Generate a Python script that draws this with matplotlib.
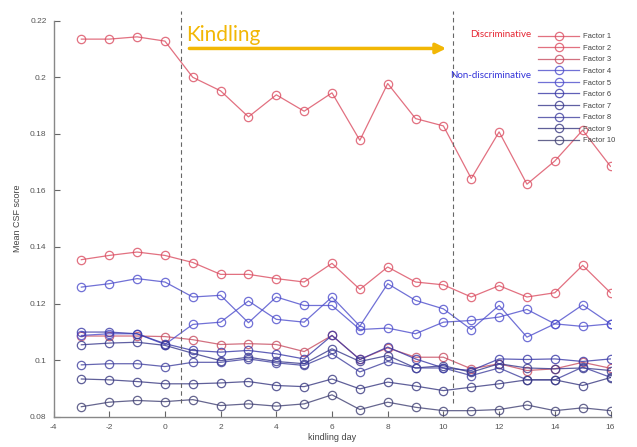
import numpy as np
from matplotlib import pyplot as plt

plt.rcParams["axes.unicode_minus"] = False

# kindling days
days = list(range(-3, 17))

factor1 = [0.2135, 0.2135, 0.2143, 0.2128, 0.2000, 0.1952, 0.1860, 0.1938, 0.1880, 0.1945,
           0.1777, 0.1978, 0.1854, 0.1828, 0.1642, 0.1807, 0.1622, 0.1704, 0.1813, 0.1685]
factor2 = [0.1355, 0.1370, 0.1382, 0.1370, 0.1345, 0.1303, 0.1303, 0.1288, 0.1276, 0.1342,
           0.1250, 0.1329, 0.1276, 0.1266, 0.1223, 0.1263, 0.1223, 0.1238, 0.1335, 0.1238]
factor3 = [0.1085, 0.1085, 0.1085, 0.1083, 0.1072, 0.1055, 0.1058, 0.1055, 0.1030, 0.1087,
           0.1002, 0.1043, 0.1010, 0.1010, 0.0969, 0.0987, 0.0963, 0.0969, 0.0992, 0.0971]
factor4 = [0.1258, 0.1270, 0.1288, 0.1276, 0.1223, 0.1229, 0.1132, 0.1223, 0.1193, 0.1193,
           0.1108, 0.1113, 0.1093, 0.1134, 0.1140, 0.1152, 0.1179, 0.1128, 0.1119, 0.1128]
factor5 = [0.1087, 0.1093, 0.1093, 0.1055, 0.1126, 0.1134, 0.1209, 0.1144, 0.1134, 0.1223,
           0.1120, 0.1270, 0.1211, 0.1181, 0.1108, 0.1193, 0.1081, 0.1128, 0.1195, 0.1128]
factor6 = [0.1099, 0.1099, 0.1093, 0.1058, 0.1034, 0.1028, 0.1034, 0.1022, 0.1004, 0.1087,
           0.1002, 0.1046, 0.1004, 0.0972, 0.0963, 0.1004, 0.1002, 0.1004, 0.0995, 0.1004]
factor7 = [0.1054, 0.1060, 0.1063, 0.1052, 0.1024, 0.0998, 0.1010, 0.0995, 0.0987, 0.1040,
           0.0995, 0.1016, 0.0972, 0.0980, 0.0957, 0.0987, 0.0972, 0.0969, 0.0972, 0.0963]
factor8 = [0.0983, 0.0987, 0.0987, 0.0977, 0.0992, 0.0992, 0.1004, 0.0990, 0.0981, 0.1022,
           0.0958, 0.0995, 0.0972, 0.0972, 0.0945, 0.0972, 0.0930, 0.0930, 0.0975, 0.0939]
factor9 = [0.0933, 0.0930, 0.0924, 0.0916, 0.0916, 0.0919, 0.0924, 0.0910, 0.0906, 0.0933,
           0.0898, 0.0922, 0.0908, 0.0892, 0.0904, 0.0916, 0.0930, 0.0930, 0.0910, 0.0938]
factor10 = [0.0835, 0.0851, 0.0857, 0.0853, 0.0860, 0.0839, 0.0845, 0.0837, 0.0845, 0.0877,
            0.0825, 0.0851, 0.0833, 0.0821, 0.0821, 0.0825, 0.0841, 0.0821, 0.0831, 0.0821]

factors = [factor1, factor2, factor3, factor4, factor5, factor6, factor7, factor8, factor9, factor10]
labels = ["Factor %d" % (i + 1) for i in range(10)]

red = (0.86, 0.30, 0.38)
colors = [red, red, (0.78, 0.30, 0.38),
          (0.30, 0.30, 0.80), (0.30, 0.30, 0.80), (0.22, 0.22, 0.65),
          (0.22, 0.22, 0.55), (0.25, 0.25, 0.62), (0.22, 0.22, 0.50), (0.25, 0.25, 0.45)]

kindling_start = 0.58
kindling_end = 10.33

fig = plt.figure(figsize=(6.37, 4.47), dpi=100)
ax = fig.add_axes([0.084, 0.068, 0.8744, 0.8856])

for vals, lab, col in zip(factors, labels, colors):
    ax.plot(days, vals, "-o", color=col, alpha=0.8, lw=0.9, ms=6,
            markerfacecolor="none", markeredgewidth=0.9, label=lab)

# kindling period
for xv in [kindling_start, kindling_end]:
    ax.plot([xv, xv], [0.0848, 0.2235], ls=(0, (4, 3)), color="#666666", lw=0.8, clip_on=False)

ax.annotate("", xy=(10.2, 0.2102), xytext=(0.78, 0.2102),
            arrowprops=dict(arrowstyle="-|>,head_length=0.6,head_width=0.3", color="#f2b705", lw=2.5))
ax.text(0.75, 0.2148, "Kindling", color="#f2b705", fontsize=15, family="Lato", va="center", ha="left")
ax.text(13.15, 0.2151, "Discriminative", color=(0.9, 0.15, 0.2), fontsize=7, family="Lato",
        va="center", ha="right")
ax.text(13.15, 0.2008, "Non-discriminative", color=(0.2, 0.2, 0.85), fontsize=7, family="Lato",
        va="center", ha="right")

ax.set_xlim(-4, 16)
ax.set_ylim(0.08, 0.22)
ax.set_xticks(np.arange(-4, 17, 2))
ax.set_yticks([0.08, 0.1, 0.12, 0.14, 0.16, 0.18, 0.2, 0.22])
ax.set_yticklabels(["0.08", "0.1", "0.12", "0.14", "0.16", "0.18", "0.2", "0.22"])
ax.tick_params(direction="in", length=4, width=0.8, color="#666666", labelcolor="#555555",
               labelsize=6, pad=5)
for s in ["top", "right"]:
    ax.spines[s].set_visible(False)
for s in ["left", "bottom"]:
    ax.spines[s].set_color("#888888")
    ax.spines[s].set_linewidth(1.0)

ax.set_xlabel("kindling day", fontsize=6.5, color="#444444", labelpad=2, family="Liberation Sans")
ax.set_ylabel("Mean CSF score", fontsize=6.5, color="#444444", labelpad=6, family="Liberation Sans")
for t in ax.get_xticklabels() + ax.get_yticklabels():
    t.set_family("Liberation Sans")

leg = ax.legend(loc="upper left", bbox_to_anchor=(538 / 637, 1 - 33 / 447),
                bbox_transform=fig.transFigure, frameon=False,
                handlelength=5.4, handletextpad=0.5, labelspacing=0.55,
                borderpad=0, borderaxespad=0, prop={"family": "Liberation Sans", "size": 5.5})
for t in leg.get_texts():
    t.set_color("#444444")

plt.savefig("out.png", dpi=100)
